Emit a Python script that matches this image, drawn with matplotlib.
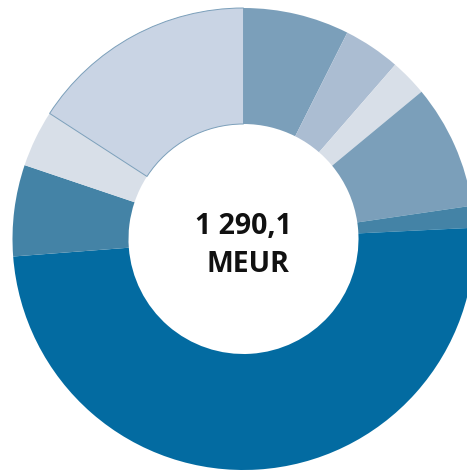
import matplotlib
matplotlib.use("Agg")
import matplotlib.pyplot as plt

# Shares of the total (MEUR)
segments = ["S1", "S2", "S3", "S4", "S5", "S6", "S7", "S8", "S9"]
values = [95.7, 51.4, 33.5, 112.2, 19.7, 639.5, 82.4, 51.2, 204.5]
colors = ["#7b9fba", "#abbdd2", "#d8dfe8", "#7b9fba", "#4483a6",
          "#036ba1", "#4483a6", "#d8dfe8", "#c9d4e4"]
total_label = "1 290,1"
unit_label = "MEUR"

W, H = 467, 471
fig = plt.figure(figsize=(W / 100, H / 100), dpi=100)
ax = fig.add_axes([0, 0, 1, 1])

cx, cy, R = 243.5, H - 239, 231
wedges, _ = ax.pie(values, colors=colors, startangle=90, counterclock=False,
                   center=(cx, cy), radius=R, frame=True,
                   wedgeprops=dict(width=116, linewidth=0))
wedges[-1].set_edgecolor("#7b9fba")
wedges[-1].set_linewidth(0.7)
ax.set_xlim(0, W)
ax.set_ylim(0, H)
ax.set_aspect("equal")
ax.axis("off")

ax.text(cx, H - 226, total_label, ha="center", va="center",
        fontsize=20.5, fontweight="bold", family=["Open Sans", "DejaVu Sans"],
        color="#111111")
ax.text(cx + 4.5, H - 264, unit_label, ha="center", va="center",
        fontsize=20.5, fontweight="bold", family=["Open Sans", "DejaVu Sans"],
        color="#111111")

fig.savefig("out.png", dpi=100)
